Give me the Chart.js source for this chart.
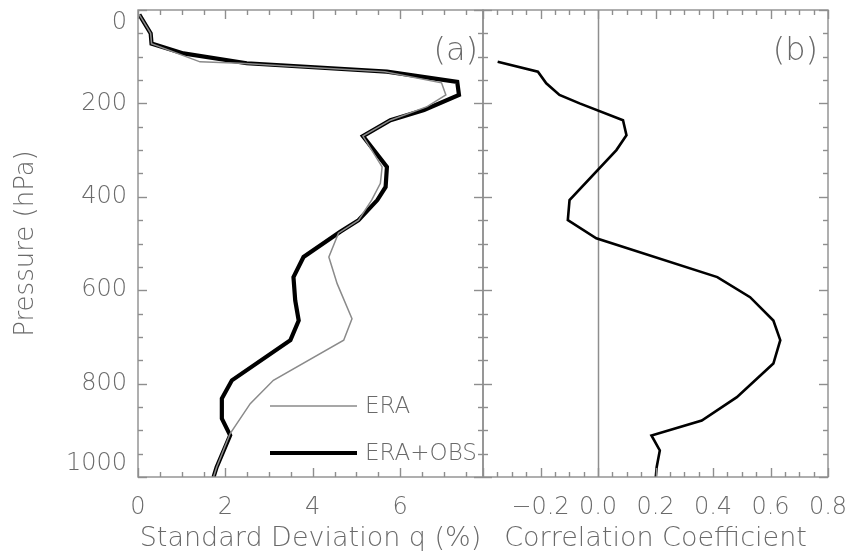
<!DOCTYPE html>
<html><head><meta charset="utf-8">
<script src="https://cdn.jsdelivr.net/npm/chart.js@4.4.1/dist/chart.umd.min.js"></script>
<style>
html,body{margin:0;padding:0;background:#fff;}
#wrap{position:relative;width:852px;height:551px;overflow:hidden;background:#fff;}
canvas{position:absolute;top:0;}
#ca{left:0;}
#cb{left:476px;}
</style></head><body>
<div id="wrap">
<canvas id="ca" width="490" height="551"></canvas>
<canvas id="cb" width="376" height="551"></canvas>
</div>
<script>
// ---- data ----
const pressureEraObs = [10, 50, 72, 93, 114, 132, 154, 182, 214, 236, 270, 336, 379, 407, 450, 475, 529, 572, 622, 665, 707, 793, 832, 875, 911, 979, 1000];
const sdEraObs       = [0.03, 0.29, 0.31, 1.04, 2.49, 5.70, 7.31, 7.35, 6.55, 5.78, 5.15, 5.70, 5.67, 5.48, 5.05, 4.63, 3.79, 3.56, 3.60, 3.68, 3.49, 2.15, 1.92, 1.92, 2.11, 1.80, 1.73];
const pressureEra    = [10, 50, 72, 111, 114, 132, 156, 182, 207, 236, 270, 336, 371, 407, 450, 478, 529, 586, 661, 707, 793, 843, 907, 979, 1000];
const sdEra          = [0.03, 0.29, 0.31, 1.42, 2.34, 5.65, 6.95, 7.05, 6.62, 5.78, 5.15, 5.59, 5.55, 5.35, 5.05, 4.59, 4.37, 4.56, 4.90, 4.71, 3.10, 2.57, 2.11, 1.80, 1.73];
const pressureCorr   = [111, 132, 157, 182, 200, 236, 268, 300, 407, 450, 489, 572, 615, 665, 707, 757, 829, 879, 911, 943, 979, 1000];
const corrCoef       = [-0.349, -0.209, -0.18, -0.134, -0.064, 0.087, 0.099, 0.064, -0.099, -0.105, -0.006, 0.415, 0.529, 0.610, 0.634, 0.610, 0.483, 0.361, 0.186, 0.215, 0.204, 0.201];

const pressureTicks = [0, 200, 400, 600, 800, 1000];
const sdTicks = [0, 2, 4, 6];
const corrTicks = [-0.2, 0.0, 0.2, 0.4, 0.6, 0.8];

const FONT = 'DejaVu Sans';
const W = 200;
const TXT = '#6a6a6a';
const AX = '#8e8e8e';

const pts = (xs, ys) => ys.map((p, i) => ({x: xs[i], y: p}));

const panelDecor = {
  id: 'panelDecor',
  beforeDatasetsDraw(chart, args, o) {
    if (!o.zeroLine) return;
    const {ctx, chartArea: a, scales: {x}} = chart;
    const px = Math.round(x.getPixelForValue(0)) + 0.5;
    ctx.save();
    ctx.strokeStyle = AX; ctx.lineWidth = 1.5;
    ctx.beginPath(); ctx.moveTo(px, a.top); ctx.lineTo(px, a.bottom); ctx.stroke();
    ctx.restore();
  },
  afterDraw(chart, args, o) {
    const {ctx, chartArea: a, scales: {x, y}} = chart;
    ctx.save();
    ctx.strokeStyle = AX; ctx.lineWidth = 1.4;
    ctx.strokeRect(a.left, a.top, a.right - a.left, a.bottom - a.top);
    const seg = (x1, y1, x2, y2) => { ctx.beginPath(); ctx.moveTo(x1, y1); ctx.lineTo(x2, y2); ctx.stroke(); };
    const nx = Math.floor((o.xMax - o.xMin) / o.xMinor + 1e-6);
    for (let k = 0; k <= nx; k++) {
      const v = o.xMin + k * o.xMinor;
      const r = v / o.xMajor;
      const len = Math.abs(r - Math.round(r)) < 1e-6 ? 9 : 5;
      const px = Math.round(x.getPixelForValue(v)) + 0.5;
      seg(px, a.bottom, px, a.bottom - len);
      seg(px, a.top, px, a.top + len);
    }
    for (let v = 0; v <= 1000; v += 50) {
      const len = v % 200 === 0 ? 9 : 5;
      const py = Math.round(y.getPixelForValue(v)) + 0.5;
      seg(a.left, py, a.left + len, py);
      seg(a.right, py, a.right - len, py);
    }
    ctx.fillStyle = TXT;
    ctx.font = W + ' 32px "' + FONT + '"';
    ctx.textAlign = 'right'; ctx.textBaseline = 'middle';
    ctx.fillText(o.label, a.right - o.labelInset, a.top + 42);
    if (o.legend) {
      ctx.font = W + ' 23px "' + FONT + '"';
      ctx.textAlign = 'left';
      o.legend.forEach(it => {
        ctx.strokeStyle = it.color; ctx.lineWidth = it.width;
        seg(a.left + 132, it.y, a.left + 219, it.y);
        ctx.fillStyle = TXT;
        ctx.fillText(it.text, a.left + 227, it.y + 1);
      });
    }
    ctx.restore();
  }
};

const tickFont = {family: FONT, size: 24, weight: W};
const titleFont = {family: FONT, size: 27, weight: W};
const noPadX = s => { s.height = 74; s.paddingLeft = 0; s.paddingRight = 0; };
// first / last pressure labels are nudged inside the frame as in the original
const pressureLabel = v => v === pressureTicks[0] ? ['', String(v)]
  : v === pressureTicks[pressureTicks.length - 1] ? [String(v), ''] : String(v);

new Chart(document.getElementById('ca'), {
  type: 'line',
  data: {datasets: [
    {label: 'ERA', data: pts(sdEra, pressureEra), borderColor: '#8a8a8a', borderWidth: 1.5, pointRadius: 0, tension: 0},
    {label: 'ERA+OBS', data: pts(sdEraObs, pressureEraObs), borderColor: '#000', borderWidth: 4.2, pointRadius: 0, tension: 0}
  ]},
  options: {
    responsive: false, animation: false, indexAxis: 'y',
    layout: {padding: {top: 10, right: 7, left: 0, bottom: 0}},
    scales: {
      x: {type: 'linear', position: 'bottom', min: 0, max: 7.9,
        grid: {display: false, drawTicks: false}, border: {display: false},
        afterBuildTicks: s => { s.ticks = sdTicks.map(v => ({value: v})); },
        afterFit: noPadX,
        ticks: {autoSkip: false, maxRotation: 0, minRotation: 0, padding: 16, color: TXT, font: tickFont, callback: v => String(v)},
        title: {display: true, text: 'Standard Deviation q (%)', color: TXT, font: titleFont, padding: {top: 0, bottom: -4}}
      },
      y: {type: 'linear', position: 'left', reverse: true, min: 0, max: 1000,
        grid: {display: false, drawTicks: false}, border: {display: false},
        afterBuildTicks: s => { s.ticks = pressureTicks.map(v => ({value: v})); },
        afterFit: s => { s.width = 138; s.paddingTop = 0; s.paddingBottom = 0; },
        ticks: {autoSkip: false, padding: 11, color: TXT, font: {family: FONT, size: 24, weight: W, lineHeight: 1.1}, callback: pressureLabel},
        title: {display: true, text: 'Pressure (hPa)', color: TXT, font: {family: FONT, size: 26, weight: W}, padding: {top: 11, bottom: 0}}
      }
    },
    plugins: {
      legend: {display: false}, tooltip: {enabled: false},
      panelDecor: {xMin: 0, xMax: 7.9, xMinor: 0.5, xMajor: 2, label: '(a)', labelInset: 5,
        legend: [
          {text: 'ERA', color: '#8a8a8a', width: 1.5, y: 406},
          {text: 'ERA+OBS', color: '#000', width: 4.2, y: 453}
        ]}
    }
  },
  plugins: [panelDecor]
});

new Chart(document.getElementById('cb'), {
  type: 'line',
  data: {datasets: [
    {label: 'Correlation', data: pts(corrCoef, pressureCorr), borderColor: '#000', borderWidth: 2.6, pointRadius: 0, tension: 0}
  ]},
  options: {
    responsive: false, animation: false, indexAxis: 'y',
    layout: {padding: {top: 10, right: 24, left: 7, bottom: 0}},
    scales: {
      x: {type: 'linear', position: 'bottom', min: -0.4, max: 0.8,
        grid: {display: false, drawTicks: false}, border: {display: false},
        afterBuildTicks: s => { s.ticks = corrTicks.map(v => ({value: v})); },
        afterFit: noPadX,
        ticks: {autoSkip: false, maxRotation: 0, minRotation: 0, padding: 16, color: TXT, font: tickFont,
          callback: v => (v < -1e-9 ? '\u2212' + Math.abs(v).toFixed(1) : Math.abs(v).toFixed(1))},
        title: {display: true, text: 'Correlation Coefficient', color: TXT, font: titleFont, padding: {top: 0, bottom: -4}}
      },
      y: {type: 'linear', display: false, reverse: true, min: 0, max: 1000}
    },
    plugins: {
      legend: {display: false}, tooltip: {enabled: false},
      panelDecor: {xMin: -0.4, xMax: 0.8, xMinor: 0.05, xMajor: 0.2, label: '(b)', labelInset: 10, zeroLine: true}
    }
  },
  plugins: [panelDecor]
});
</script>
</body></html>
